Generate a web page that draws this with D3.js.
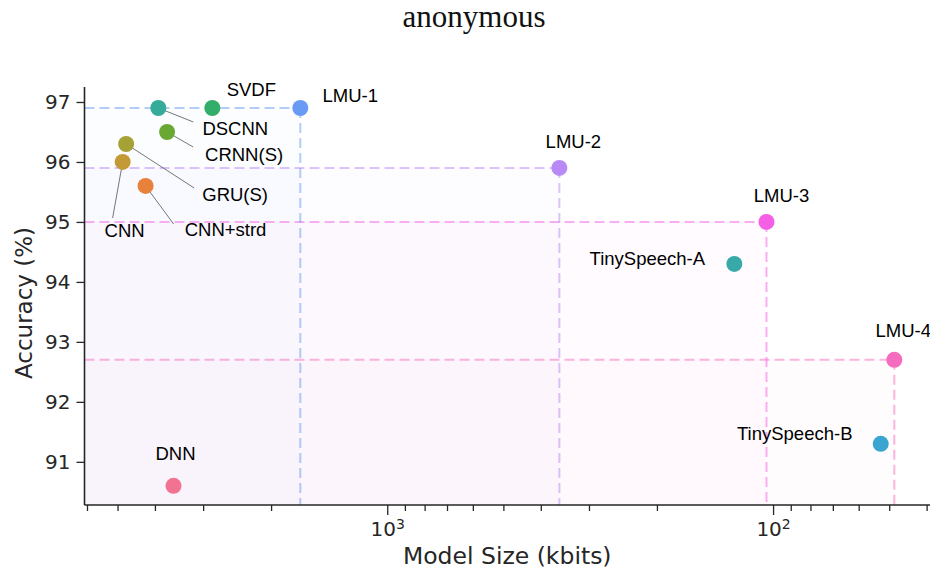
<!DOCTYPE html>
<html>
<head>
<meta charset="utf-8">
<script src="https://cdn.jsdelivr.net/npm/d3@7"></script>
<style>
  body { margin: 0; background: #fff; }
  svg { display: block; }
</style>
</head>
<body>
<script>
const models = ["DNN","CNN","CNN+strd","GRU(S)","CRNN(S)","DSCNN","SVDF","LMU-1","LMU-2","LMU-3","LMU-4","TinySpeech-A","TinySpeech-B"];
const sizes  = [3580, 4850, 4230, 4750, 3720, 3920, 2840, 1680, 358, 104, 48.5, 126, 52.6];
const accuracy = [90.6, 96.0, 95.6, 96.3, 96.5, 96.9, 96.9, 96.9, 95.9, 95.0, 92.7, 94.3, 91.3];
const colors = ["#f27291","#c39a36","#e8813a","#a4a234","#6aa834","#36ab9a","#33ae6a","#6a9bf4","#b98af5","#f55fe6","#f56bbd","#38a9a8","#3aa5d0"];
const lmuNames = ["LMU-1","LMU-2","LMU-3","LMU-4"];
const yTicks = [91, 92, 93, 94, 95, 96, 97];
const xMajorTicks = [1000, 100];
const xMinorTicks = [6000,5000,4000,3000,2000,900,800,700,600,500,400,300,200,90,80,70,60,50,40];
// label placement offsets (dx, dy) relative to point, and whether a leader line is drawn
const labelOffsets = {
  "DNN": [2, -26, "middle", false],
  "SVDF": [39, -12, "middle", false],
  "LMU-1": [50, -6, "middle", false],
  "DSCNN": [77, 27, "middle", true],
  "CRNN(S)": [77, 29, "middle", true],
  "GRU(S)": [109, 57, "middle", true],
  "CNN": [2, 75, "middle", true],
  "CNN+strd": [80, 50, "middle", true],
  "LMU-2": [14, -20, "middle", false],
  "LMU-3": [15, -20, "middle", false],
  "LMU-4": [9, -23, "middle", false],
  "TinySpeech-A": [-87, 1, "middle", false],
  "TinySpeech-B": [-86, -4, "middle", false]
};
const leaderEnds = {
  "DSCNN": [35, 14],
  "CRNN(S)": [26, 15],
  "GRU(S)": [68, 44],
  "CNN": [-10, 56],
  "CNN+strd": [28, 38]
};

const W = 930, H = 569;
const margin = {left: 84.5, right: 0, top: 87, bottom: 64};
const svg = d3.select("body").append("svg").attr("width", W).attr("height", H);

const x = d3.scaleLog().domain([6090, 39.2]).range([margin.left, W - margin.right]);
const y = d3.scaleLinear().domain([90.28, 97.25]).range([H - margin.bottom, margin.top]);

const x0 = margin.left, yb = H - margin.bottom;

const data = models.map((m, i) => ({name: m, size: sizes[i], acc: accuracy[i], color: colors[i]}));
const lmus = data.filter(d => lmuNames.includes(d.name));

// shaded regions
svg.append("g").selectAll("rect").data(lmus).join("rect")
  .attr("x", x0).attr("y", d => y(d.acc))
  .attr("width", d => x(d.size) - x0)
  .attr("height", d => yb - y(d.acc))
  .attr("fill", d => d.color).attr("fill-opacity", 0.022);

// dashed guide lines
const guides = svg.append("g");
guides.selectAll("line.h").data(lmus).join("line").attr("class","h")
  .attr("x1", x0).attr("x2", d => x(d.size))
  .attr("y1", d => y(d.acc)).attr("y2", d => y(d.acc))
  .attr("stroke", d => d.color).attr("stroke-opacity", 0.5)
  .attr("stroke-width", 2).attr("stroke-dasharray", "10,5");
guides.selectAll("line.v").data(lmus).join("line").attr("class","v")
  .attr("x1", d => x(d.size)).attr("x2", d => x(d.size))
  .attr("y1", d => y(d.acc)).attr("y2", yb)
  .attr("stroke", d => d.color).attr("stroke-opacity", 0.5)
  .attr("stroke-width", 2).attr("stroke-dasharray", "10,5");

// leader lines
svg.append("g").selectAll("line").data(data.filter(d => labelOffsets[d.name][3])).join("line")
  .attr("x1", d => x(d.size)).attr("y1", d => y(d.acc))
  .attr("x2", d => x(d.size) + leaderEnds[d.name][0])
  .attr("y2", d => y(d.acc) + leaderEnds[d.name][1])
  .attr("stroke", "#666").attr("stroke-width", 0.9);

// points
svg.append("g").selectAll("circle").data(data).join("circle")
  .attr("cx", d => x(d.size)).attr("cy", d => y(d.acc)).attr("r", 8)
  .attr("fill", d => d.color);

// labels
svg.append("g").selectAll("text").data(data).join("text")
  .attr("x", d => x(d.size) + labelOffsets[d.name][0])
  .attr("y", d => y(d.acc) + labelOffsets[d.name][1])
  .attr("text-anchor", d => labelOffsets[d.name][2])
  .attr("font-family", "Liberation Sans, Arial, sans-serif")
  .attr("font-size", 18.5).attr("fill", "#000")
  .text(d => d.name);

// axes
const axisColor = "#262626";
const yAxis = svg.append("g").attr("transform", `translate(${x0},0)`)
  .call(d3.axisLeft(y).tickValues(yTicks).tickSize(8).tickPadding(6).tickFormat(d3.format("d")));
const xAxis = svg.append("g").attr("transform", `translate(0,${yb})`)
  .call(d3.axisBottom(x).tickValues(xMajorTicks).tickSize(10).tickPadding(6).tickFormat(() => ""));
const xMinor = svg.append("g").attr("transform", `translate(0,${yb})`)
  .call(d3.axisBottom(x).tickValues(xMinorTicks).tickSize(6).tickFormat(() => ""));
xMinor.select(".domain").remove();

[yAxis, xAxis, xMinor].forEach(g => {
  g.selectAll("path.domain").attr("stroke", axisColor).attr("stroke-width", 1.6);
  g.selectAll(".tick line").attr("stroke", axisColor).attr("stroke-width", 1.3);
  g.selectAll("text").attr("fill", axisColor).attr("font-family", "DejaVu Sans, sans-serif").attr("font-size", 20);
});
yAxis.select("path.domain").attr("d", `M0,${margin.top}V${yb}`);
xAxis.select("path.domain").attr("d", `M${x0},0H${W}`);

// x major tick labels with superscript exponents
xAxis.selectAll(".tick").each(function(d) {
  const t = d3.select(this).select("text");
  t.text(null).attr("y", 17).attr("dy", "0.71em");
  t.append("tspan").text("10");
  t.append("tspan").attr("dy", "-0.55em").attr("font-size", 14).text(String(Math.round(Math.log10(d))));
});

// axis titles
svg.append("text").attr("x", (x0 + W) / 2).attr("y", 564)
  .attr("text-anchor", "middle").attr("font-family", "DejaVu Sans, sans-serif")
  .attr("font-size", 23.5).attr("fill", axisColor).text("Model Size (kbits)");
svg.append("text").attr("transform", `translate(32,${(margin.top + yb) / 2 + 7}) rotate(-90)`)
  .attr("text-anchor", "middle").attr("font-family", "DejaVu Sans, sans-serif")
  .attr("font-size", 23).attr("fill", axisColor).text("Accuracy (%)");

// title
svg.append("text").attr("x", 474).attr("y", 27)
  .attr("text-anchor", "middle").attr("font-family", "Liberation Serif, DejaVu Serif, serif")
  .attr("font-size", 31).attr("fill", "#111").text("anonymous");
</script>
</body>
</html>
